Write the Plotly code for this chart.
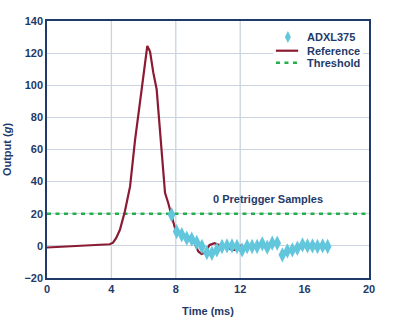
import plotly.graph_objects as go

# Reference curve (time ms, output g)
ref_t = [0.0, 2.0, 3.9, 4.1, 4.3, 4.53, 4.84, 5.16, 5.47, 5.88, 6.1, 6.23, 6.4, 6.6, 6.81, 7.12, 7.33, 7.53, 7.74,
         7.95, 8.26, 8.68, 8.99, 9.19, 9.4, 9.6, 9.8, 10.1, 10.4, 10.7, 11.0, 11.5, 11.8, 12.1]
ref_y = [-1.0, 0.0, 1.0, 2.0, 5.0, 10.0, 21.5, 37.0, 66.0, 97.5, 116.0, 124.5, 121.0, 108.0, 97.5, 60.0, 33.0, 26.7, 19.0,
         11.0, 7.9, 5.8, 5.4, 0.6, -3.5, -5.0, -4.2, 0.6, 1.7, 0.6, 0.0, -2.5, -2.5, 0.6]

# ADXL375 samples
adxl_t = [7.74, 8.05, 8.37, 8.68, 8.99, 9.30, 9.62, 9.93, 10.24, 10.55, 10.87, 11.18, 11.49, 11.80, 12.12, 12.43,
          12.74, 13.05, 13.37, 13.68, 13.99, 14.30, 14.62, 14.93, 15.24, 15.55, 15.87, 16.18, 16.49, 16.80, 17.12, 17.43]
adxl_y = [19.4, 8.9, 6.9, 4.8, 4.2, 2.1, -0.4, -4.2, -4.6, -2.5, -0.4, 0.0, 0.0, -0.4, -2.5, -0.4,
          -0.4, -0.4, 1.25, -0.8, 1.7, 1.7, -5.6, -3.1, -2.5, -1.5, 0.6, 0.0, 0.0, -0.4, 0.0, -0.4]

threshold_x = [0, 20]
threshold_y = [20, 20]

x_ticks = [0, 4, 8, 12, 16, 20]
y_ticks = [-20, 0, 20, 40, 60, 80, 100, 120, 140]
x_grid = [4, 8, 12]
legend_names = ["ADXL375", "Reference", "Threshold"]

NAVY = "#1f3a68"
GRID = "#c9d4de"
RED = "#8c1a33"
CYAN = "#62c6dc"
GREEN = "#22b04b"
DASH = "4px,4.5px"
FONT = "Liberation Sans"
TF = dict(family=FONT, size=11, color=NAVY, weight="bold")

fig = go.Figure()
fig.add_trace(go.Scatter(x=threshold_x, y=threshold_y, mode="lines", name="Threshold",
                         line=dict(color=GREEN, width=2.5, dash=DASH)))
fig.add_trace(go.Scatter(x=ref_t, y=ref_y, mode="lines", name="Reference",
                         line=dict(color=RED, width=2.2)))
fig.add_trace(go.Scatter(x=adxl_t, y=adxl_y, mode="markers", name="ADXL375",
                         marker=dict(symbol="diamond-tall", size=11, color=CYAN, line=dict(width=0))))

for gx in x_grid:
    fig.add_shape(type="line", x0=gx, x1=gx, y0=0, y1=1, xref="x", yref="paper",
                  line=dict(color=GRID, width=1.3), layer="below")

fig.add_annotation(x=13.7, y=29, text="0 Pretrigger Samples", showarrow=False, font=TF)

# Manual compact legend
fig.add_shape(type="rect", xref="paper", yref="paper", x0=0.702, x1=0.981, y0=0.80, y1=0.99,
              fillcolor="white", line=dict(width=0), layer="above")
dx, dy = 0.0093, 0.0233
cx, cy = 0.748, 0.9377
fig.add_shape(type="path", xref="paper", yref="paper",
              path=f"M {cx} {cy+dy} L {cx+dx} {cy} L {cx} {cy-dy} L {cx-dx} {cy} Z",
              fillcolor=CYAN, line=dict(width=0), layer="above")
fig.add_shape(type="line", xref="paper", yref="paper", x0=0.711, x1=0.78, y0=0.8844, y1=0.8844,
              line=dict(color=RED, width=2.2), layer="above")
fig.add_shape(type="line", xref="paper", yref="paper", x0=0.711, x1=0.78, y0=0.8377, y1=0.8377,
              line=dict(color=GREEN, width=2.5, dash=DASH), layer="above")
for name, ly in zip(legend_names, [0.9377, 0.8844, 0.8377]):
    fig.add_annotation(xref="paper", yref="paper", x=0.801, y=ly, xanchor="left", yanchor="middle",
                       text=name, showarrow=False, font=TF)

fig.update_layout(
    width=395, height=323,
    margin=dict(l=47, r=26, t=21, b=45),
    plot_bgcolor="white", paper_bgcolor="white",
    font=TF,
    showlegend=False,
)
fig.update_xaxes(range=[0, 20], tickvals=x_ticks, showgrid=False, zeroline=False, automargin=False,
                 showline=True, mirror=True, linecolor=NAVY, linewidth=1.5, ticks="",
                 title=dict(text="Time (ms)", font=TF, standoff=13), tickfont=TF)
fig.update_yaxes(range=[-20, 140], tickvals=y_ticks, showgrid=True, gridcolor=GRID, gridwidth=1.3, zeroline=False,
                 showline=True, mirror=True, linecolor=NAVY, linewidth=1.5, ticks="", automargin=False,
                 title=dict(text="Output (<i>g</i>)", font=TF, standoff=11), tickfont=TF)

fig.write_html("out.html")
